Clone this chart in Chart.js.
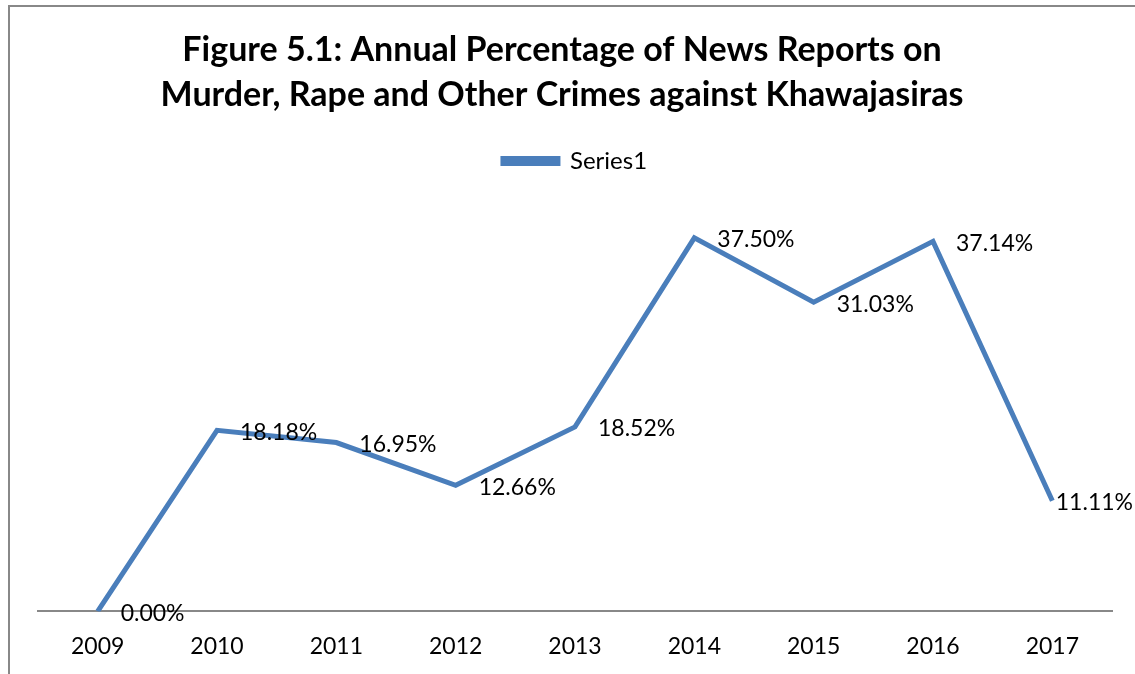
<!DOCTYPE html>
<html>
<head>
<meta charset="utf-8">
<script src="https://cdn.jsdelivr.net/npm/chart.js@4/dist/chart.umd.min.js"></script>
<style>
  html, body { margin: 0; padding: 0; background: #fff; }
  #wrap { width: 1135px; height: 674px; position: relative; }
</style>
</head>
<body>
<div id="wrap"><canvas id="chart"></canvas></div>
<script>
// Chart data
const years = ['2009', '2010', '2011', '2012', '2013', '2014', '2015', '2016', '2017'];
const series1 = [0.00, 18.18, 16.95, 12.66, 18.52, 37.50, 31.03, 37.14, 11.11];
const titleLines = [
  'Figure 5.1: Annual Percentage of News Reports on',
  'Murder, Rape and Other Crimes against Khawajasiras'
];

const lineBlue = '#4a7ebb';
const fontFamily = 'Lato, "Open Sans", sans-serif';

/**
 * Outer frame of the chart (cut off at right and bottom) and the title
 */
const framePlugin = {
  id: 'frame',
  beforeDraw(chart) {
    const ctx = chart.ctx;
    ctx.save();
    ctx.strokeStyle = '#888';
    ctx.lineWidth = 2;
    ctx.beginPath();
    ctx.moveTo(9, chart.height);
    ctx.lineTo(9, 6);
    ctx.lineTo(chart.width, 6);
    ctx.stroke();

    // Title, centred a little left of the plot centre like the original
    ctx.font = 'bold 34px ' + fontFamily;
    ctx.fillStyle = '#000';
    ctx.textAlign = 'center';
    ctx.textBaseline = 'middle';
    titleLines.forEach((line, i) => {
      ctx.fillText(line, 562, 50 + i * 45);
    });
    ctx.restore();
  }
};

/**
 * Value labels to the right of each point
 */
const labelPlugin = {
  id: 'pointLabels',
  afterDatasetsDraw(chart) {
    const ctx = chart.ctx;
    const meta = chart.getDatasetMeta(0);
    ctx.save();
    ctx.font = '23px ' + fontFamily;
    ctx.fillStyle = '#000';
    ctx.textAlign = 'left';
    ctx.textBaseline = 'middle';
    meta.data.forEach((pt, i) => {
      const text = series1[i].toFixed(2) + '%';
      const w = ctx.measureText(text).width;
      // keep the label inside the frame
      const x = Math.min(pt.x + 23, chart.width - 2 - w);
      ctx.fillText(text, x, pt.y + 2);
    });
    ctx.restore();
  }
};

new Chart(document.getElementById('chart').getContext('2d'), {
  type: 'line',
  data: {
    labels: years,
    datasets: [{
      label: 'Series1',
      data: series1,
      borderColor: lineBlue,
      backgroundColor: lineBlue,
      borderWidth: 5,
      pointRadius: 0,
      tension: 0
    }]
  },
  options: {
    responsive: true,
    maintainAspectRatio: false,
    animation: false,
    layout: {
      padding: { left: 38, right: 23, top: 139, bottom: -7 }
    },
    plugins: {
      title: { display: false },
      legend: {
        display: true,
        position: 'top',
        labels: {
          color: '#000',
          font: { family: fontFamily, size: 24 },
          boxWidth: 55,
          boxHeight: 5
        }
      },
      tooltip: { enabled: false }
    },
    scales: {
      x: {
        offset: true,
        grid: { display: false, drawTicks: false },
        border: { display: true, color: '#888', width: 2 },
        ticks: {
          color: '#000',
          font: { family: fontFamily, size: 23 },
          padding: 21,
          maxRotation: 0
        }
      },
      y: {
        display: false,
        min: 0,
        max: 43
      }
    }
  },
  plugins: [framePlugin, labelPlugin]
});
</script>
</body>
</html>
